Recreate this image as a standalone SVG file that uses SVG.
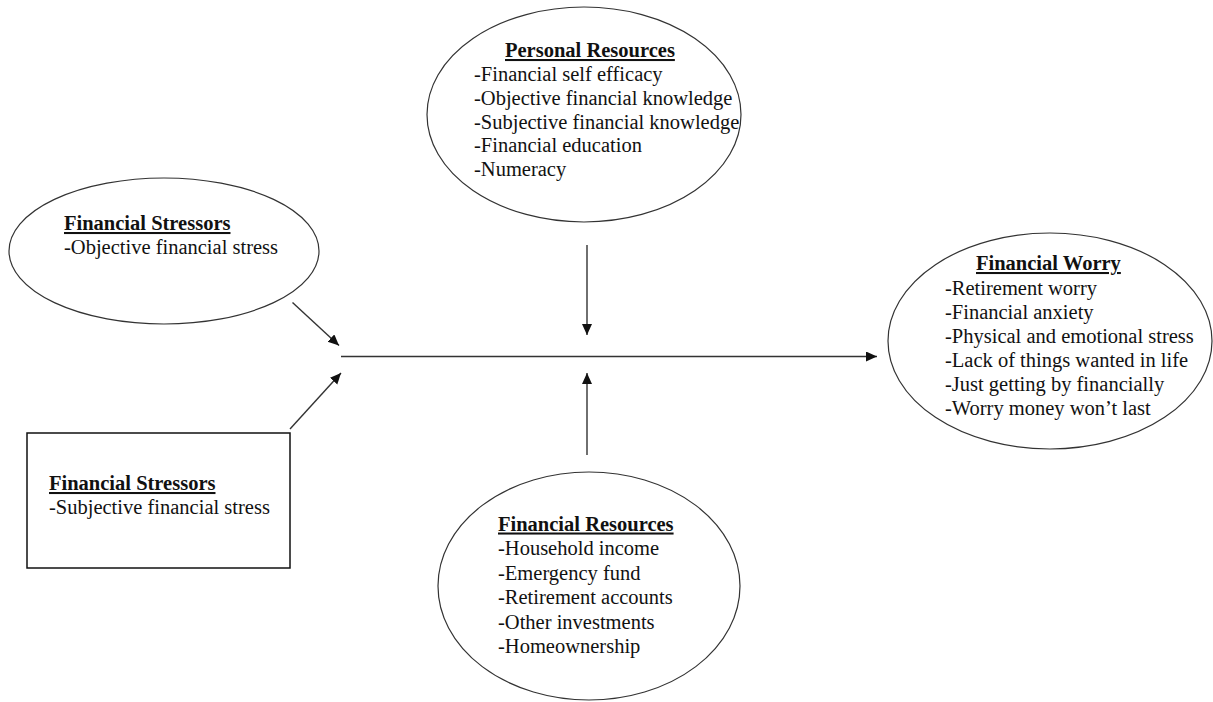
<svg xmlns="http://www.w3.org/2000/svg" width="1213" height="702" viewBox="0 0 1213 702">
<style>
text{font-family:"Liberation Serif","Times New Roman",serif;font-size:20.5px;fill:#111}
.h{font-weight:bold;text-decoration:underline}
.shape{fill:#fff;stroke:#333;stroke-width:1.2}
.box{fill:#fff;stroke:#111;stroke-width:1.5}
.c{stroke:#333;stroke-width:1.4;fill:none;marker-end:url(#ah)}
</style>
<defs>
<marker id="ah" markerUnits="userSpaceOnUse" markerWidth="14" markerHeight="12" refX="11" refY="5" orient="auto">
<path d="M0,0 L11,5 L0,10 Z" fill="#111"/>
</marker>
</defs>
<rect width="1213" height="702" fill="#fff"/>
<g id="personal-resources">
<ellipse class="shape" cx="584" cy="114.5" rx="157" ry="107.5"/>
<text class="h" x="505" y="57">Personal Resources</text>
<text x="474" y="81">-Financial self efficacy</text>
<text x="474" y="105">-Objective financial knowledge</text>
<text x="474" y="128.5">-Subjective financial knowledge</text>
<text x="474" y="152">-Financial education</text>
<text x="474" y="176">-Numeracy</text>
</g>
<g id="financial-stressors-objective">
<ellipse class="shape" cx="164" cy="251" rx="155" ry="73"/>
<text class="h" x="64" y="230">Financial Stressors</text>
<text x="64" y="254">-Objective financial stress</text>
</g>
<g id="financial-stressors-subjective">
<rect class="box" x="27" y="433" width="263" height="135"/>
<text class="h" x="49" y="490">Financial Stressors</text>
<text x="49" y="514">-Subjective financial stress</text>
</g>
<g id="financial-worry">
<ellipse class="shape" cx="1050" cy="341" rx="162" ry="108"/>
<text class="h" x="976" y="270">Financial Worry</text>
<text x="945" y="294.5">-Retirement worry</text>
<text x="945" y="318.5">-Financial anxiety</text>
<text x="945" y="342.5">-Physical and emotional stress</text>
<text x="945" y="366.5">-Lack of things wanted in life</text>
<text x="945" y="390.5">-Just getting by financially</text>
<text x="945" y="414.5">-Worry money won’t last</text>
</g>
<g id="financial-resources">
<ellipse class="shape" cx="589" cy="586" rx="151" ry="114"/>
<text class="h" x="498" y="530.5">Financial Resources</text>
<text x="498" y="555">-Household income</text>
<text x="498" y="579.5">-Emergency fund</text>
<text x="498" y="604">-Retirement accounts</text>
<text x="498" y="628.5">-Other investments</text>
<text x="498" y="653">-Homeownership</text>
</g>
<g id="connectors">
<line class="c" x1="341" y1="356.5" x2="877" y2="356.5"/>
<line class="c" x1="292.5" y1="302.5" x2="339" y2="345.5"/>
<line class="c" x1="290" y1="429" x2="341" y2="373"/>
<line class="c" x1="587" y1="245" x2="587" y2="335"/>
<line class="c" x1="587" y1="455" x2="587" y2="373"/>
</g>
</svg>
